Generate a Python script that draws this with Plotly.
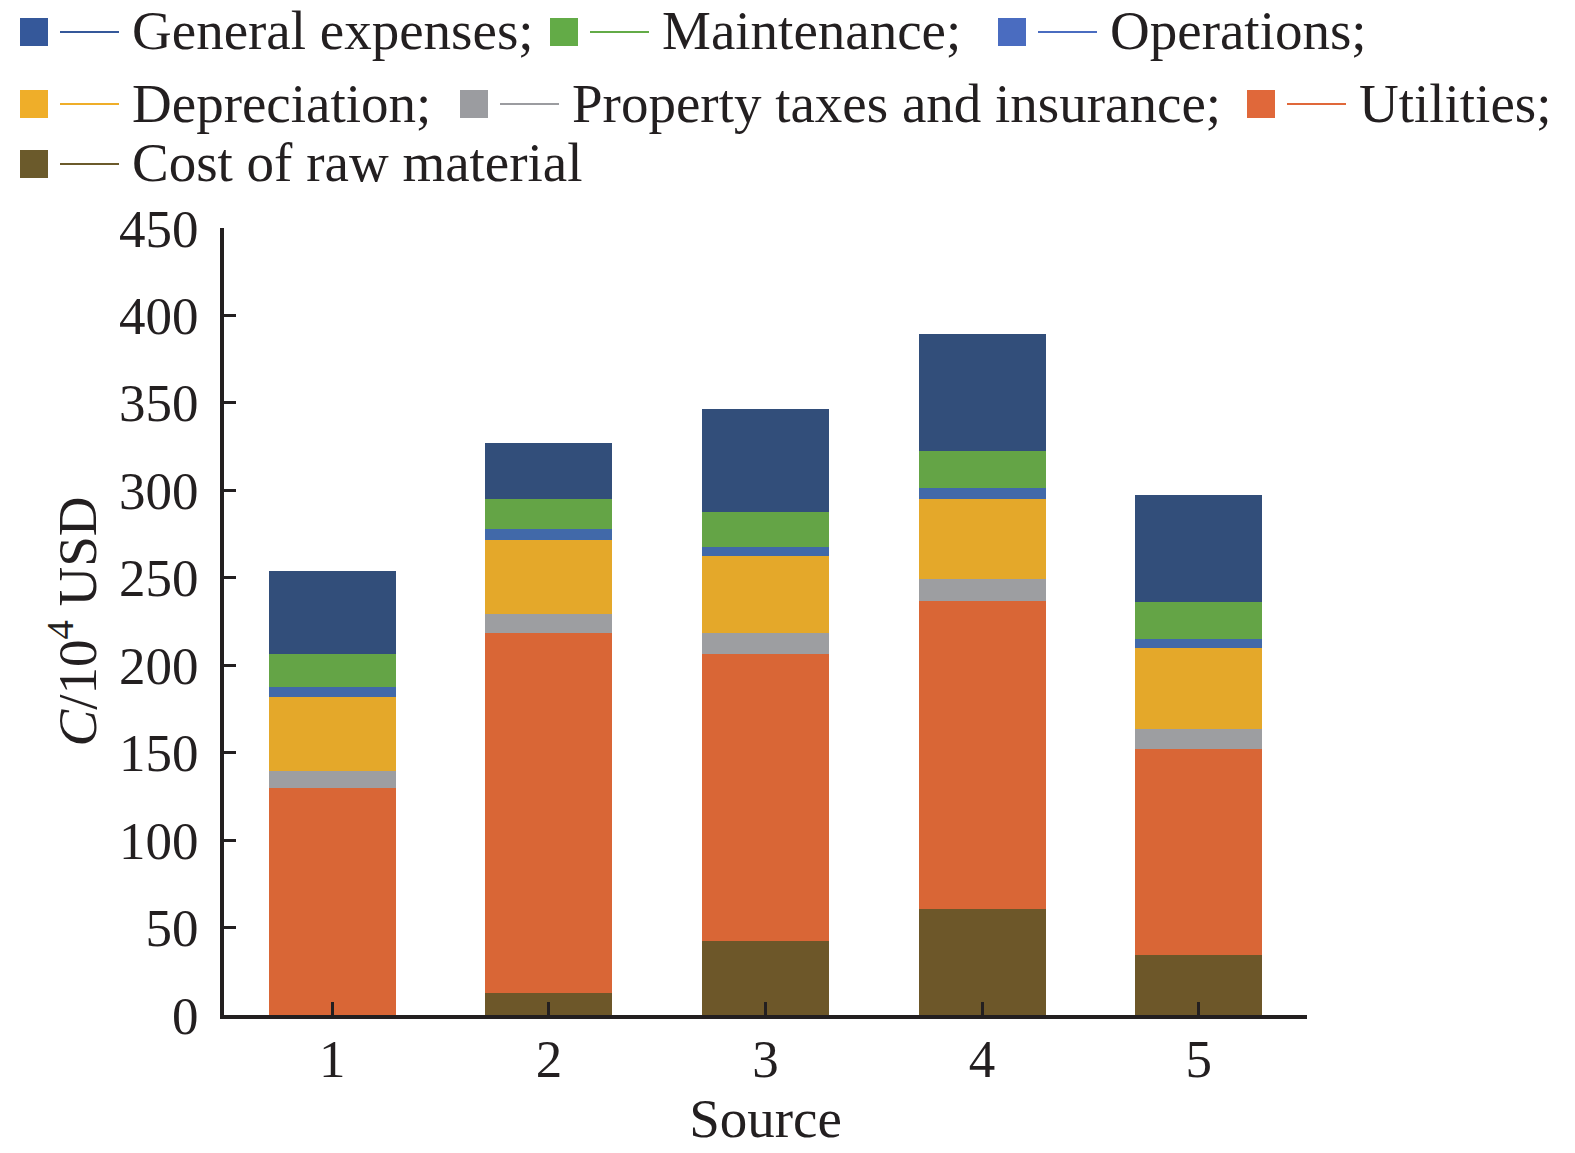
import plotly.graph_objects as go

# ---- data ----
sources = [1, 2, 3, 4, 5]
series_names = ["General expenses", "Maintenance", "Operations", "Depreciation",
                "Property taxes and insurance", "Utilities", "Cost of raw material"]
raw_material = [0.0, 12.6, 42.2, 60.6, 34.2]
utilities = [129.6, 205.8, 164.4, 176.3, 117.7]
property_tax = [9.9, 10.9, 12.0, 12.2, 11.8]
depreciation = [42.5, 42.1, 43.8, 45.7, 46.0]
operations = [5.5, 6.3, 5.4, 6.7, 5.3]
maintenance = [18.7, 17.2, 19.6, 21.0, 21.0]
general = [47.5, 32.1, 59.1, 66.9, 61.3]
y_ticks = [0, 50, 100, 150, 200, 250, 300, 350, 400, 450]

# ---- styles ----
colors = {
    "General expenses": "#324e7a",
    "Maintenance": "#64a446",
    "Operations": "#4169a9",
    "Depreciation": "#e4a82a",
    "Property taxes and insurance": "#9d9ea1",
    "Utilities": "#d96636",
    "Cost of raw material": "#6d5729",
}
legend_colors = {
    "General expenses": "#35589a",
    "Maintenance": "#63ab47",
    "Operations": "#4a6cc0",
    "Depreciation": "#efae29",
    "Property taxes and insurance": "#9b9ca0",
    "Utilities": "#e0683a",
    "Cost of raw material": "#6b5a2b",
}
values = {
    "General expenses": general,
    "Maintenance": maintenance,
    "Operations": operations,
    "Depreciation": depreciation,
    "Property taxes and insurance": property_tax,
    "Utilities": utilities,
    "Cost of raw material": raw_material,
}
labels = {
    "General expenses": "General expenses;",
    "Maintenance": "Maintenance;",
    "Operations": "Operations;",
    "Depreciation": "Depreciation;",
    "Property taxes and insurance": "Property taxes and insurance;",
    "Utilities": "Utilities;",
    "Cost of raw material": "Cost of raw material",
}

W, H = 1575, 1153
L, R, T, B = 224, 1307, 228, 1015
FONT = "Liberation Serif"
INK = "#231f20"

fig = go.Figure()
stack_order = ["Cost of raw material", "Utilities", "Property taxes and insurance",
               "Depreciation", "Operations", "Maintenance", "General expenses"]
for name in stack_order:
    fig.add_trace(go.Bar(
        x=sources, y=values[name], name=name, width=0.586,
        marker=dict(color=colors[name], line=dict(width=0)),
        showlegend=False,
    ))

def px_x(p):
    return (p - L) / (R - L)

def px_y(p):
    return (B - p) / (B - T)

# manual legend: (name, square left x, row centre y) in pixels
legend_layout = [
    ("General expenses", 20, 32), ("Maintenance", 550, 32), ("Operations", 998, 32),
    ("Depreciation", 20, 104), ("Property taxes and insurance", 460, 104), ("Utilities", 1247, 104),
    ("Cost of raw material", 20, 164),
]
shapes = []
annotations = []
for name, x0, yc in legend_layout:
    c = legend_colors[name]
    shapes.append(dict(type="rect", xref="paper", yref="paper",
                       x0=px_x(x0), x1=px_x(x0 + 28), y0=px_y(yc + 14), y1=px_y(yc - 14),
                       fillcolor=c, line=dict(width=0)))
    shapes.append(dict(type="line", xref="paper", yref="paper",
                       x0=px_x(x0 + 40), x1=px_x(x0 + 99), y0=px_y(yc), y1=px_y(yc),
                       line=dict(color=c, width=2)))
    annotations.append(dict(xref="paper", yref="paper", x=px_x(x0 + 110), y=px_y(yc - 1),
                            xanchor="left", yanchor="middle", showarrow=False,
                            text=labels[name], font=dict(family=FONT, size=55, color=INK)))

fig.update_layout(
    width=W, height=H,
    margin=dict(l=L, r=W - R, t=T, b=H - B, autoexpand=False),
    paper_bgcolor="white", plot_bgcolor="white",
    barmode="stack", bargap=0.4,
    font=dict(family=FONT, size=54, color=INK),
    shapes=shapes, annotations=annotations,
    showlegend=False,
)
fig.update_xaxes(
    range=[0.5, 5.5], tickvals=sources, ticktext=[str(s) for s in sources],
    showline=True, linecolor=INK, linewidth=4, mirror=False,
    ticks="inside", ticklen=13, tickwidth=3, tickcolor=INK,
    showgrid=False, zeroline=False, ticklabelstandoff=-6,
    tickfont=dict(family=FONT, size=53, color=INK),
    title=dict(text="Source", font=dict(family=FONT, size=55, color=INK), standoff=4),
)
fig.update_yaxes(
    range=[0, 450], tickvals=y_ticks,
    showline=True, linecolor=INK, linewidth=4, mirror=False,
    ticks="inside", ticklen=12, tickwidth=3, tickcolor=INK,
    showgrid=False, zeroline=False, ticklabelstandoff=11,
    tickfont=dict(family=FONT, size=53, color=INK),
    title=dict(text="<i>C</i>/10<sup>4</sup> USD", font=dict(family=FONT, size=55, color=INK), standoff=6),
)

fig.write_html("out.html")
